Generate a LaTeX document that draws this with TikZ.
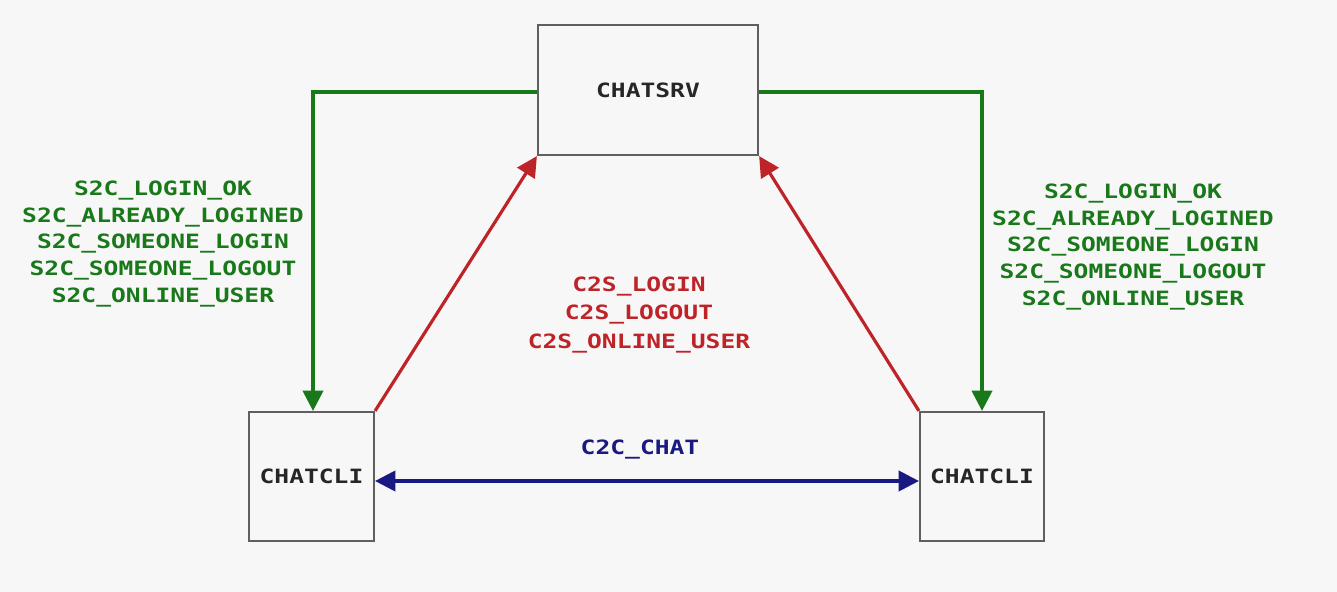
\documentclass[tikz,border=0pt]{standalone}
\usepackage{fontspec}
\newfontfamily\pixfont[FakeStretch=1.25]{DejaVu Sans Mono}
\usetikzlibrary{arrows.meta}
\definecolor{bgcol}{RGB}{247,247,247}
\definecolor{boxcol}{RGB}{95,95,95}
\definecolor{srvgreen}{RGB}{25,120,25}
\definecolor{cligred}{RGB}{190,35,40}
\definecolor{chatblue}{RGB}{25,25,130}
\begin{document}
\begin{tikzpicture}[x=0.01cm, y=-0.01cm,
    every node/.style={font=\pixfont\bfseries\fontsize{5.6pt}{7.6pt}\selectfont},
    host/.style={draw=boxcol, line width=0.6pt, fill=bgcol, text=black!85, inner sep=0pt},
    msgs/.style={align=center, inner sep=0pt},
    tip/.style={-{Triangle[length=5.8pt,width=5.8pt]}},
    tips/.style={{Triangle[length=5.8pt,width=5.8pt]}-{Triangle[length=5.8pt,width=5.8pt]}}]
    \fill[bgcol] (0,0) rectangle (1337,592);

    \node[host, minimum width=2.2cm, minimum height=1.3cm] (srv) at (648,90) {CHATSRV};
    \node[host, minimum width=1.25cm, minimum height=1.29cm] (cliL) at (311.5,476.5) {CHATCLI};
    \node[host, minimum width=1.24cm, minimum height=1.29cm] (cliR) at (982,476.5) {CHATCLI};

    \node[msgs, text=srvgreen] (s2cL) at (163,244) {S2C\_LOGIN\_OK\\S2C\_ALREADY\_LOGINED\\S2C\_SOMEONE\_LOGIN\\S2C\_SOMEONE\_LOGOUT\\S2C\_ONLINE\_USER};
    \node[msgs, text=srvgreen] (s2cR) at (1133,247) {S2C\_LOGIN\_OK\\S2C\_ALREADY\_LOGINED\\S2C\_SOMEONE\_LOGIN\\S2C\_SOMEONE\_LOGOUT\\S2C\_ONLINE\_USER};
    \node[msgs, text=cligred, font=\pixfont\bfseries\fontsize{5.6pt}{8pt}\selectfont] (c2s) at (639,315) {C2S\_LOGIN\\C2S\_LOGOUT\\C2S\_ONLINE\_USER};
    \node[msgs, text=chatblue] (c2c) at (640,450) {C2C\_CHAT};

    \draw [tip, srvgreen, line width=0.9pt] ([yshift=-0.02cm]srv.west) -| ([xshift=0.015cm]cliL.north);
    \draw [tip, srvgreen, line width=0.9pt] ([yshift=-0.02cm]srv.east) -| (cliR.north);
    \draw [tip, cligred, line width=0.9pt] (cliL.north east) -- (srv.south west);
    \draw [tip, cligred, line width=0.9pt] (cliR.north west) -- (srv.south east);
    \draw [tips, chatblue, line width=0.9pt] ([yshift=-0.045cm]cliL.east) -- ([yshift=-0.045cm]cliR.west);
\end{tikzpicture}
\end{document}
